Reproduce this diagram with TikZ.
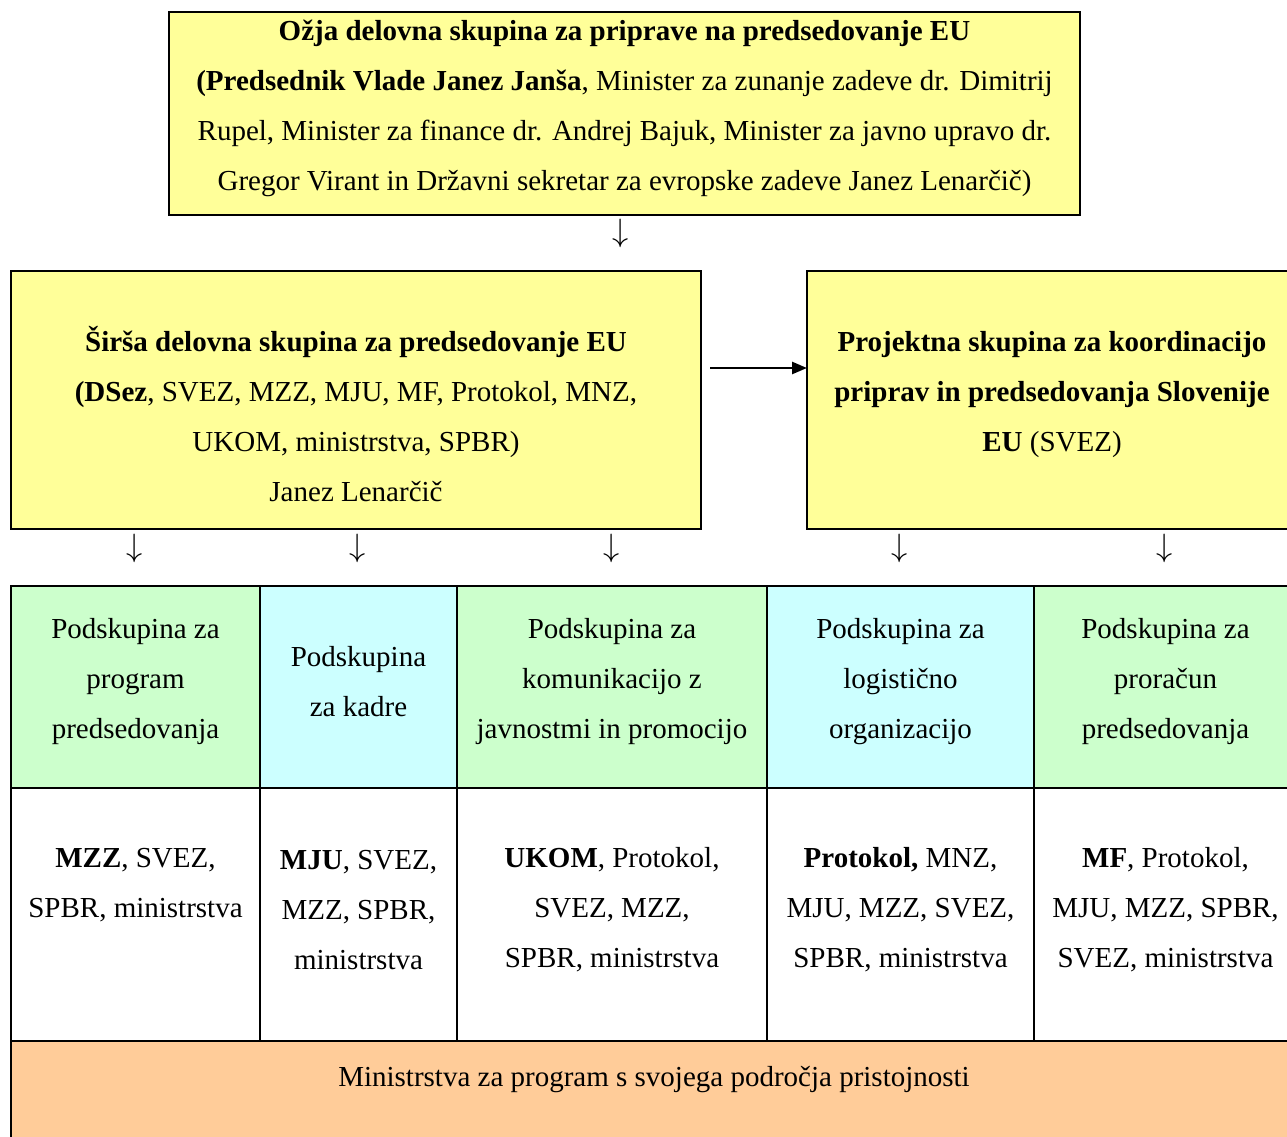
\documentclass[tikz,border=0pt]{standalone}
\usepackage{fontspec}
\setmainfont{Liberation Serif}
\usepackage{xcolor}
\usetikzlibrary{arrows.meta}

\definecolor{ozjayellow}{HTML}{FFFF99}
\definecolor{podgreen}{HTML}{CCFFCC}
\definecolor{podcyan}{HTML}{CCFFFF}
\definecolor{minorange}{HTML}{FFCC99}

\begin{document}
\begin{tikzpicture}[x=1pt,y=-1pt,
  box/.style={draw=black,line width=2pt,rectangle,inner sep=0pt,outer sep=0pt,anchor=north west},
  txt/.style={align=center,inner sep=0pt,font=\fontsize{29}{50}\selectfont},
  darrow/.style={inner sep=0pt,font=\fontsize{29}{50}\selectfont},
  >={Triangle[length=15pt,width=12pt]}]
\useasboundingbox (0,0) rectangle (1287,1137);

    % boxes
    \node[box,fill=ozjayellow,minimum width=911pt,minimum height=203pt] (ozja) at (169,12) {};
    \node[box,fill=ozjayellow,minimum width=690pt,minimum height=258pt] (sirsa) at (11,271) {};
    \node[box,fill=ozjayellow,minimum width=490pt,minimum height=258pt] (projekt) at (807,271) {};

    % table
    \node[box,fill=podgreen,minimum width=249pt,minimum height=202pt] (hprogram) at (11,586) {};
    \node[box,fill=podcyan,minimum width=197pt,minimum height=202pt] (hkadri) at (260,586) {};
    \node[box,fill=podgreen,minimum width=310pt,minimum height=202pt] (hkomunik) at (457,586) {};
    \node[box,fill=podcyan,minimum width=267pt,minimum height=202pt] (hlogist) at (767,586) {};
    \node[box,fill=podgreen,minimum width=263pt,minimum height=202pt] (hproracun) at (1034,586) {};
    \node[box,fill=white,minimum width=249pt,minimum height=253pt] (bprogram) at (11,788) {};
    \node[box,fill=white,minimum width=197pt,minimum height=253pt] (bkadri) at (260,788) {};
    \node[box,fill=white,minimum width=310pt,minimum height=253pt] (bkomunik) at (457,788) {};
    \node[box,fill=white,minimum width=267pt,minimum height=253pt] (blogist) at (767,788) {};
    \node[box,fill=white,minimum width=263pt,minimum height=253pt] (bproracun) at (1034,788) {};
    \node[box,fill=minorange,minimum width=1286pt,minimum height=110pt] (ministrstva) at (11,1041) {};

    % texts
    \node[txt] (ozjatxt) at (624.5,108) {\textbf{Ožja delovna skupina za priprave na predsedovanje EU}\\
      \textbf{(Predsednik Vlade Janez Janša}, Minister za zunanje zadeve dr. Dimitrij\\
      Rupel, Minister za finance dr. Andrej Bajuk, Minister za javno upravo dr.\\
      Gregor Virant in Državni sekretar za evropske zadeve Janez Lenarčič)};
    \node[txt] (sirsatxt) at (356,414) {\textbf{Širša delovna skupina za predsedovanje EU}\\
      \textbf{(DSez}, SVEZ, MZZ, MJU, MF, Protokol, MNZ,\\
      UKOM, ministrstva, SPBR)\\
      Janez Lenarčič};
    \node[txt] (projekttxt) at (1052,395) {\textbf{Projektna skupina za koordinacijo}\\
      \textbf{priprav in predsedovanja Slovenije}\\
      \textbf{EU} (SVEZ)};

    \node[txt] (hprogramtxt) at (135.5,682) {Podskupina za\\program\\predsedovanja};
    \node[txt] (hkadritxt) at (358.5,682) {Podskupina\\za kadre};
    \node[txt] (hkomuniktxt) at (612,682) {Podskupina za\\komunikacijo z\\javnostmi in promocijo};
    \node[txt] (hlogisttxt) at (900.5,682) {Podskupina za\\logistično\\organizacijo};
    \node[txt] (hproracuntxt) at (1165.5,682) {Podskupina za\\proračun\\predsedovanja};

    \node[txt] (bprogramtxt) at (135.5,885) {\textbf{MZZ}, SVEZ,\\SPBR, ministrstva};
    \node[txt] (bkadritxt) at (358.5,910) {\textbf{MJU}, SVEZ,\\MZZ, SPBR,\\ministrstva};
    \node[txt] (bkomuniktxt) at (612,910) {\textbf{UKOM}, Protokol,\\SVEZ, MZZ,\\SPBR, ministrstva};
    \node[txt] (blogisttxt) at (900.5,910) {\textbf{Protokol,} MNZ,\\MJU, MZZ, SVEZ,\\SPBR, ministrstva};
    \node[txt] (bproracuntxt) at (1165.5,910) {\textbf{MF}, Protokol,\\MJU, MZZ, SPBR,\\SVEZ, ministrstva};

    \node[txt] (ministrstvatxt) at (654,1080) {Ministrstva za program s svojega področja pristojnosti};

    % arrows
    \node[darrow] (dozja) at (621,233.5) {\scalebox{1.3}{$\downarrow$}};
    \node[darrow] (dprogram) at (135,548.5) {\scalebox{1.3}{$\downarrow$}};
    \node[darrow] (dkadri) at (358,548.5) {\scalebox{1.3}{$\downarrow$}};
    \node[darrow] (dkomunik) at (612,548.5) {\scalebox{1.3}{$\downarrow$}};
    \node[darrow] (dlogist) at (900,548.5) {\scalebox{1.3}{$\downarrow$}};
    \node[darrow] (dproracun) at (1165,548.5) {\scalebox{1.3}{$\downarrow$}};
    \draw[->,line width=2.5pt,shorten <=9pt] ([yshift=32pt]sirsa.east) -- ([yshift=32pt]projekt.west);

\end{tikzpicture}
\end{document}
